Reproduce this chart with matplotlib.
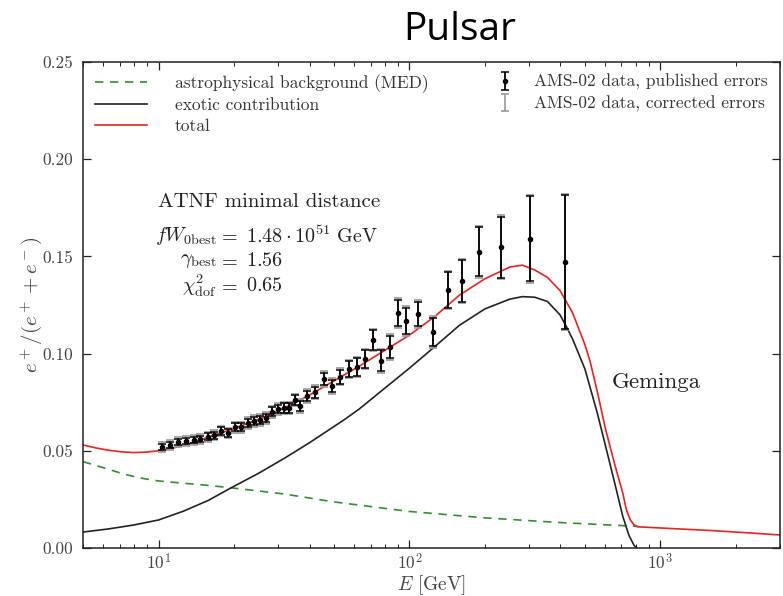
import numpy as np
import matplotlib
matplotlib.use('Agg')
import matplotlib.pyplot as plt

plt.rcParams['font.family'] = 'serif'
plt.rcParams['font.serif'] = ['cmr10', 'DejaVu Serif']
plt.rcParams['mathtext.fontset'] = 'cm'
plt.rcParams['axes.formatter.use_mathtext'] = True
plt.rcParams['axes.unicode_minus'] = False

# AMS-02 positron fraction
E_data = [10.37, 11.06, 11.91, 12.82, 13.79, 14.58, 15.69, 16.59, 17.68, 18.86,
          20.1, 21.25, 22.66, 23.96, 25.3, 26.76, 28.28, 29.9, 31.6, 33.0,
          34.9, 36.6, 39.0, 42.0, 45.6, 49.1, 52.8, 57.4, 61.8, 66.6,
          71.6, 77.1, 83.6, 90.0, 96.9, 108.1, 124.0, 142.5, 162.1, 189.4,
          231.6, 302.0, 417.3]
frac_data = [0.0520, 0.0530, 0.0545, 0.0550, 0.0556, 0.0561, 0.0571, 0.0581, 0.0602, 0.0592,
             0.0622, 0.0622, 0.0643, 0.0653, 0.0658, 0.0669, 0.0700, 0.0715, 0.0720, 0.0720,
             0.0761, 0.0730, 0.0782, 0.0802, 0.0869, 0.0833, 0.0880, 0.0921, 0.0931, 0.0972,
             0.1070, 0.0962, 0.1034, 0.1209, 0.1168, 0.1204, 0.1111, 0.1327, 0.1373, 0.1523,
             0.1548, 0.1590, 0.1471]
err_pub = [0.0016, 0.0016, 0.0016, 0.0017, 0.0017, 0.0017, 0.0018, 0.0018, 0.0019, 0.0019,
           0.0020, 0.0020, 0.0021, 0.0021, 0.0022, 0.0022, 0.0023, 0.0023, 0.0024, 0.0024,
           0.0025, 0.0026, 0.0026, 0.0028, 0.0031, 0.0033, 0.0036, 0.0039, 0.0044, 0.0044,
           0.0049, 0.0054, 0.0059, 0.0067, 0.0069, 0.0062, 0.0072, 0.0093, 0.0108, 0.0126,
           0.0157, 0.0219, 0.0345]
err_corr = [0.0024, 0.0024, 0.0024, 0.0025, 0.0025, 0.0025, 0.0026, 0.0026, 0.0027, 0.0027,
            0.0028, 0.0028, 0.0029, 0.0029, 0.0030, 0.0030, 0.0031, 0.0031, 0.0032, 0.0032,
            0.0033, 0.0034, 0.0034, 0.0036, 0.0039, 0.0041, 0.0044, 0.0047, 0.0052, 0.0052,
            0.0057, 0.0062, 0.0067, 0.0075, 0.0077, 0.0070, 0.0080, 0.0100, 0.0115, 0.0133,
            0.0164, 0.0226, 0.0352]

# astrophysical background (MED)
E_bg = [5, 5.62, 6.31, 7.08, 7.94, 8.91, 10, 12.6, 15.8, 20, 31.6, 50.1, 100, 200,
        398, 794, 817]
bg = [0.0444, 0.0425, 0.0405, 0.0385, 0.0368, 0.0355, 0.0345, 0.0333, 0.0322, 0.0308,
      0.0278, 0.0237, 0.0188, 0.0155, 0.0131, 0.0112, 0.0110]

# exotic contribution
E_ex = [5, 6.31, 7.94, 10, 12.6, 15.8, 19.5, 25.1, 31.6, 39.8, 55, 63.1, 79.4, 100,
        126, 158, 200, 251, 282, 316, 355, 398, 422, 447, 501, 562, 631, 668, 708,
        750, 785, 804]
ex = [0.0082, 0.0098, 0.0118, 0.0144, 0.0190, 0.0245, 0.0310, 0.0385, 0.0460, 0.0540,
      0.0660, 0.0715, 0.0820, 0.0925, 0.1035, 0.1145, 0.1230, 0.1280, 0.1293, 0.1290,
      0.1268, 0.1200, 0.1140, 0.1075, 0.0920, 0.0690, 0.0430, 0.0300, 0.0165,
      0.0065, 0.0015, 0.0]

# total
E_tot = [5, 5.62, 6.31, 7.08, 7.94, 8.91, 10, 11.2, 12.6, 14.1, 15.8, 20, 25.1, 31.6,
         39.8, 50.1, 63.1, 79.4, 100, 126, 158, 200, 251, 282, 316, 355, 398, 447,
         501, 525, 562, 603, 631, 668, 708, 733, 759, 785, 813, 1000, 1585, 2239, 3000]
tot = [0.0530, 0.0515, 0.0503, 0.0495, 0.0491, 0.0493, 0.0500, 0.0512, 0.0528, 0.0548,
       0.0570, 0.0615, 0.0662, 0.0720, 0.0785, 0.0860, 0.0935, 0.1015, 0.1095, 0.1190,
       0.1300, 0.1385, 0.1445, 0.1455, 0.1430, 0.1392, 0.1325, 0.1210, 0.1045, 0.0960,
       0.0800, 0.0620, 0.0520, 0.0400, 0.0285, 0.0195, 0.0145, 0.0120, 0.0109, 0.0103,
       0.0090, 0.0078, 0.0067]

W, H = 783, 596
fig = plt.figure(figsize=(W / 100, H / 100), dpi=100)
ax = fig.add_axes([83 / W, 48 / H, 697 / W, 486 / H])

l_bg, = ax.plot(E_bg, bg, '--', color='#2f8f2f', lw=1.2, dashes=(5, 4),
                label='astrophysical background (MED)')
l_ex, = ax.plot(E_ex, ex, '-', color='#222222', lw=1.2, label='exotic contribution')
l_tot, = ax.plot(E_tot, tot, '-', color='#ee2020', lw=1.2, label='total')

e_corr = ax.errorbar(E_data, frac_data, yerr=err_corr, fmt='none', ecolor='#9a9a9a',
                     elinewidth=1.2, capsize=3.2, capthick=1.2, zorder=4,
                     label='AMS-02 data, corrected errors')
e_pub = ax.errorbar(E_data, frac_data, yerr=err_pub, fmt='o', color='black', ms=3,
                    ecolor='black', elinewidth=1.3, capsize=3.0, capthick=1.1, zorder=5,
                    label='AMS-02 data, published errors')

ax.set_xscale('log')
ax.set_xlim(5, 3000)
ax.set_ylim(0, 0.25)
ax.set_yticks(np.arange(0, 0.251, 0.05))
ax.set_yticklabels(['%.2f' % v for v in np.arange(0, 0.251, 0.05)])
ax.tick_params(which='both', direction='in', top=True, right=True, labelsize=12.5,
               colors='#222222', labelcolor='#444444')
ax.tick_params(which='major', length=6, width=0.9, pad=7)
ax.tick_params(axis='x', which='major', pad=3)
ax.tick_params(which='minor', length=3, width=0.7)
for s in ax.spines.values():
    s.set_linewidth(1.1)
    s.set_color('#222222')

ax.set_xlabel(r'$E\ [\mathrm{GeV}]$', fontsize=14, color='#444444', labelpad=0.5)
ax.set_ylabel(r'$e^+/(e^+ + e^-)$', fontsize=15, color='#444444', labelpad=-1)

leg1 = ax.legend(handles=[l_bg, l_ex, l_tot], loc='upper left', frameon=False,
                 fontsize=12.5, handlelength=3.0, handletextpad=1.6, labelspacing=0.3,
                 borderaxespad=0.3)
for t in leg1.get_texts():
    t.set_color('#333333')
ax.add_artist(leg1)
leg2 = ax.legend(handles=[e_pub, e_corr], loc='upper right', frameon=False,
                 fontsize=12.5, handlelength=1.0, handletextpad=1.2, labelspacing=0.3,
                 borderaxespad=0.3)
for t in leg2.get_texts():
    t.set_color('#333333')

def fx(px):
    return px / W

def fy(py):
    return 1 - py / H

fig.text(fx(158), fy(202), 'ATNF minimal distance', fontsize=15, va='center',
         color='#222222')
rows = [(r'$fW_{0\mathrm{best}}$', r'$1.48\cdot 10^{51}\ \mathrm{GeV}$', 236),
        (r'$\gamma_{\mathrm{best}}$', r'$1.56$', 261),
        (r'$\chi^2_{\mathrm{dof}}$', r'$0.65$', 286)]
for lhs, rhs, py in rows:
    fig.text(fx(217), fy(py), lhs, fontsize=14.5, ha='right', va='center', color='#222222')
    fig.text(fx(228), fy(py), r'$=$', fontsize=14.5, ha='center', va='center', color='#222222')
    fig.text(fx(246), fy(py), rhs, fontsize=14.5, ha='left', va='center', color='#222222')

fig.text(fx(612), fy(382), 'Geminga', fontsize=16.5, va='center', color='#222222')

fig.text(fx(460), fy(30), 'Pulsar', fontsize=28, ha='center', va='center',
         family='Open Sans', color='black')

fig.savefig('out.png', dpi=100)
